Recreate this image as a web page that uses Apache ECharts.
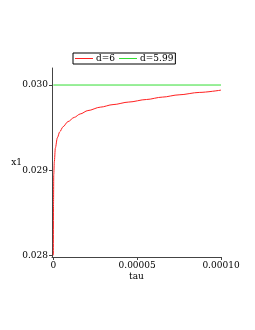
<!DOCTYPE html>
<html><head><meta charset="utf-8">
<script src="https://cdn.jsdelivr.net/npm/echarts@6/dist/echarts.min.js"></script>
<style>html,body{margin:0;padding:0;background:#fff}#c{width:255px;height:330px}</style>
</head><body><div id="c"></div>
<script>
var tauValues = [0, 0.1e-6, 0.25e-6, 0.6e-6, 1.2e-6, 2.4e-6, 3.8e-6, 5.8e-6, 8.7e-6, 12.5e-6, 16e-6, 20.6e-6, 28e-6, 35.6e-6, 45e-6, 55.5e-6, 65e-6, 75e-6, 87e-6, 100e-6];
var x1d6 = [0.0280, 0.0286, 0.02895, 0.02910, 0.02926, 0.02938, 0.02945, 0.02951, 0.02957, 0.02962, 0.02966, 0.02970, 0.02974, 0.02977, 0.02980, 0.02983, 0.029858, 0.029885, 0.029913, 0.02994];
var tauGreen = [0, 100e-6];
var x1d599 = [0.0300, 0.0300];
var xTicks = [0, 5e-5, 1e-4];
var xTickLabels = ['0', '0.00005', '0.00010'];
var yTicks = [0.028, 0.029, 0.030];
var yTickLabels = ['0.028', '0.029', '0.030'];
var seriesNames = ['d=6', 'd=5.99'];

function pairs(xs, ys){ return xs.map(function(x,i){return [x, ys[i]];}); }
var font = 'DejaVu Serif';
var chart = echarts.init(document.getElementById('c'), null, {renderer:'canvas'});
chart.setOption({
  animation:false,
  backgroundColor:'#fff',
  grid:{left:52, top:68, right:34, bottom:73, containLabel:false},
  legend:{
    data:seriesNames.map(function(n){return {name:n};}),
    left:73, top:53, padding:[1,2,1,2], borderColor:'#000', borderWidth:1,
    itemWidth:18, itemHeight:1, itemGap:4, icon:'rect',
    textStyle:{fontFamily:font, fontSize:9, color:'#000', padding:[0,0,0,-2]}
  },
  xAxis:{
    type:'value', min:-0.8e-6, max:1e-4,
    name:'tau', nameLocation:'middle', nameGap:15, nameMoveOverlap:false,
    nameTextStyle:{fontFamily:font, fontSize:9, color:'#000'},
    axisLine:{show:true, onZero:false, lineStyle:{color:'#444', width:1}},
    axisTick:{show:true, length:3, customValues:xTicks, lineStyle:{color:'#444'}},
    axisLabel:{customValues:xTicks, fontFamily:font, fontSize:9, color:'#000', margin:4,
      formatter:function(v){var i=xTicks.indexOf(v);return i>=0?xTickLabels[i]:'';}},
    splitLine:{show:false}
  },
  yAxis:{
    type:'value', min:0.02798, max:0.0302,
    name:'x1', nameLocation:'middle', nameRotate:0, nameGap:30, nameMoveOverlap:false,
    nameTextStyle:{fontFamily:font, fontSize:9, color:'#000'},
    axisLine:{show:true, onZero:false, lineStyle:{color:'#444', width:1}},
    axisTick:{show:true, length:3, customValues:yTicks, lineStyle:{color:'#444'}},
    axisLabel:{customValues:yTicks, fontFamily:font, fontSize:9, color:'#000', margin:4,
      formatter:function(v){for(var i=0;i<yTicks.length;i++){if(Math.abs(yTicks[i]-v)<1e-9)return yTickLabels[i];}return '';}},
    splitLine:{show:false}
  },
  series:[
    {name:seriesNames[0], type:'line', data:pairs(tauValues, x1d6), symbol:'none', smooth:0.3, smoothMonotone:'x',
     lineStyle:{color:'#ff2020', width:1}, itemStyle:{color:'#ff2020'}},
    {name:seriesNames[1], type:'line', data:pairs(tauGreen, x1d599), symbol:'none',
     lineStyle:{color:'#33dd33', width:1}, itemStyle:{color:'#33dd33'}}
  ]
});
</script></body></html>
